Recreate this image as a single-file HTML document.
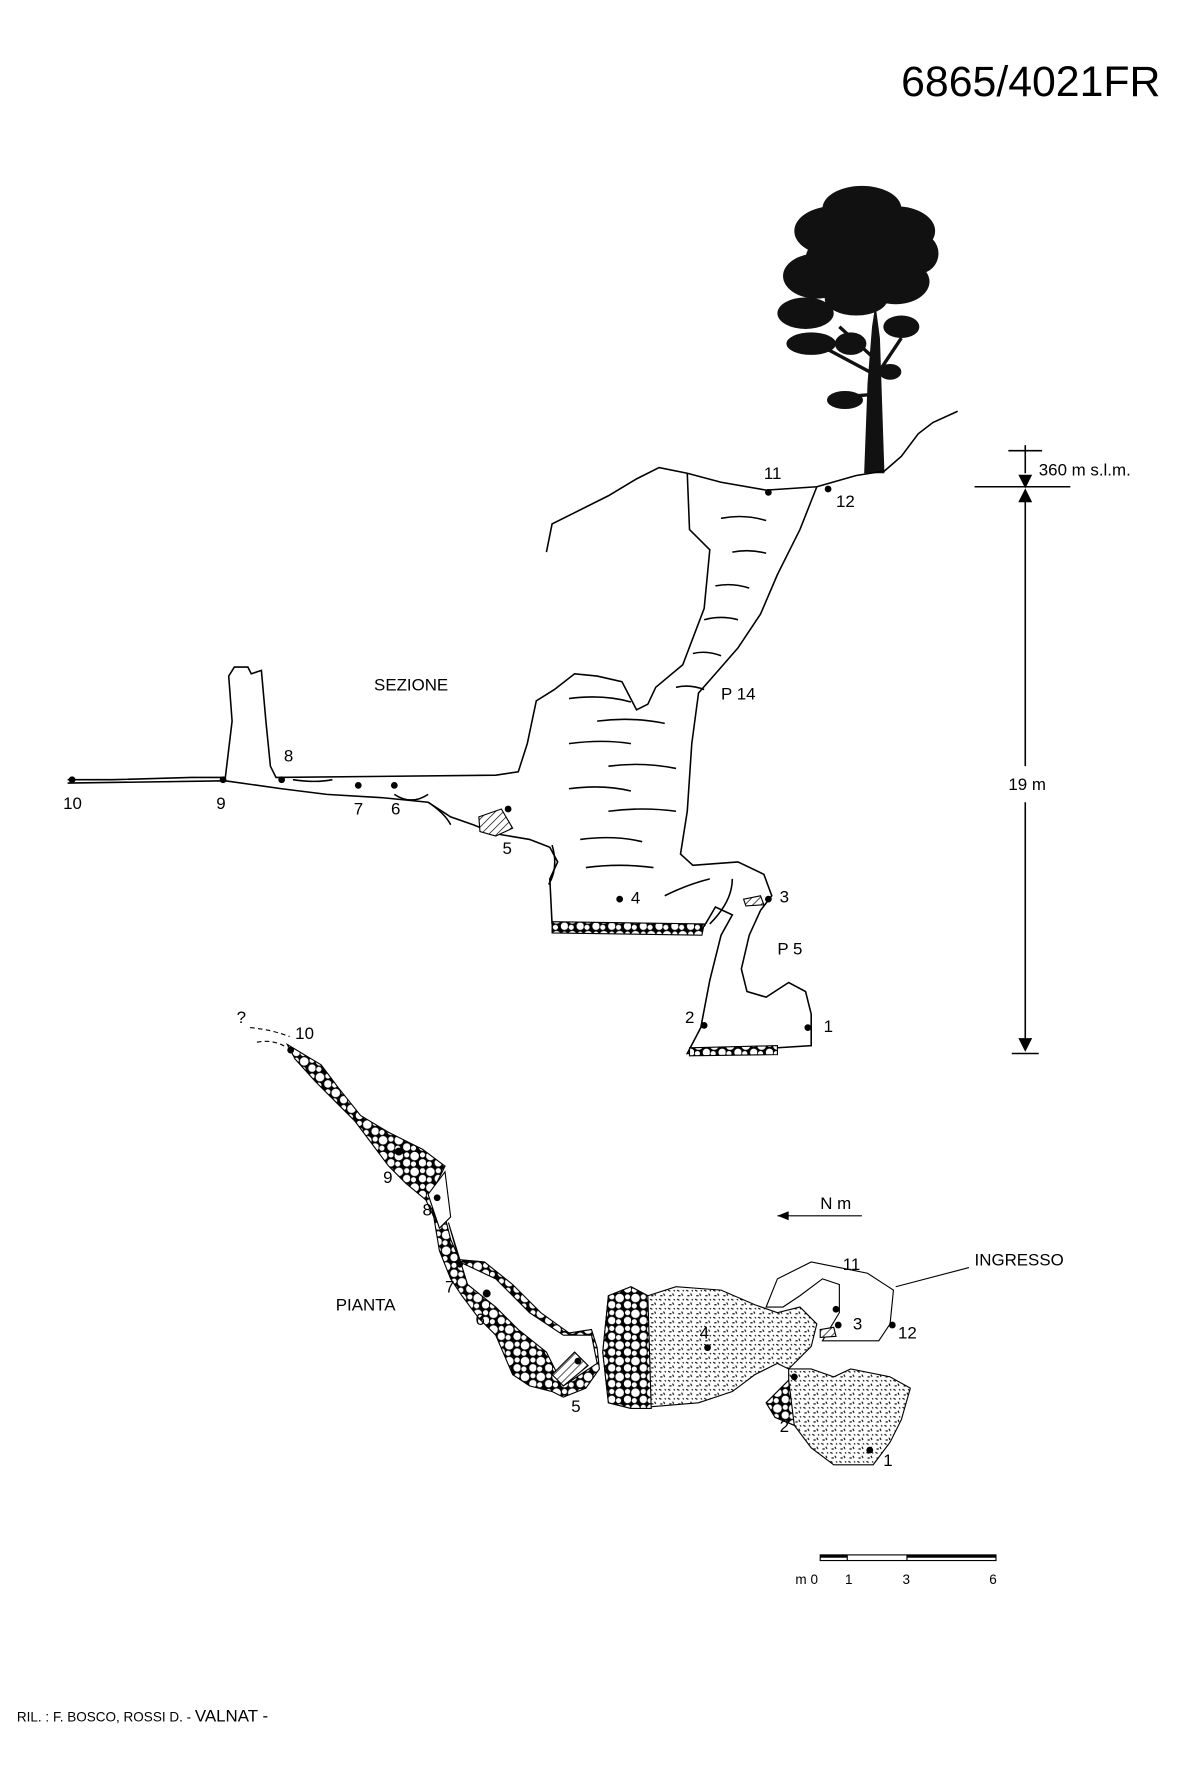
<!DOCTYPE html>
<html><head><meta charset="utf-8"><style>
html,body{margin:0;padding:0;background:#fff}
svg{display:block}
text{font-family:"Liberation Sans","DejaVu Sans",sans-serif;fill:#000}
</style></head><body>
<svg width="1183" height="1778" viewBox="0 0 1050 1578" preserveAspectRatio="none" xmlns="http://www.w3.org/2000/svg">
<defs>
<pattern id="dots" width="8" height="8" patternUnits="userSpaceOnUse">
<rect width="8" height="8" fill="#fff"/>
<path d="M1 1l2 1M5 4l1 2M2 6l2 0M6 1l1 1" stroke="#000" stroke-width="1"/>
</pattern>
<pattern id="boul" width="14" height="14" patternUnits="userSpaceOnUse">
<rect width="14" height="14" fill="#000"/>
<circle cx="4" cy="4" r="3.8" fill="#fff"/><circle cx="11" cy="10" r="3.3" fill="#fff"/><circle cx="3" cy="11" r="2.3" fill="#fff"/><circle cx="11" cy="3" r="2.3" fill="#fff"/>
</pattern>
<pattern id="hatch" width="5" height="5" patternUnits="userSpaceOnUse" patternTransform="rotate(45)">
<rect width="5" height="5" fill="#fff"/><line x1="0" y1="0" x2="0" y2="5" stroke="#000" stroke-width="1.2"/>
</pattern>
</defs>

<text x="1030" y="85" font-size="38" text-anchor="end">6865/4021FR</text>

<!-- tree -->
<g fill="#111">
<path d="M767 420 L770 340 L774 290 L777 270 L781 300 L783 360 L785 420 Z"/>
<ellipse cx="765" cy="185" rx="35" ry="20"/>
<ellipse cx="740" cy="205" rx="35" ry="22"/>
<ellipse cx="795" cy="205" rx="35" ry="22"/>
<ellipse cx="815" cy="225" rx="18" ry="18"/>
<ellipse cx="760" cy="230" rx="45" ry="28"/>
<ellipse cx="725" cy="245" rx="30" ry="20"/>
<ellipse cx="795" cy="250" rx="30" ry="20"/>
<ellipse cx="715" cy="278" rx="25" ry="14"/>
<ellipse cx="760" cy="265" rx="28" ry="15"/>
<ellipse cx="720" cy="305" rx="22" ry="10"/>
<ellipse cx="755" cy="305" rx="14" ry="10"/>
<ellipse cx="800" cy="290" rx="16" ry="10"/>
<ellipse cx="750" cy="355" rx="16" ry="8"/>
<ellipse cx="790" cy="330" rx="10" ry="7"/>
</g>
<path d="M778 320 L745 290 M772 330 L725 305 M780 330 L800 300 M776 350 L752 352" stroke="#111" stroke-width="3" fill="none"/>

<g fill="none" stroke="#000" stroke-width="1.4">
<path d="M485 490 L490 465 L510 455 L540 440 L565 425 L585 415 L610 420 L640 428 L680 435 L725 432 L760 422 L785 418 L800 405 L815 385 L828 375 L850 365"/>
<path d="M610 420 L612 470 L630 488 L625 540 L606 590 L582 610 L575 625 L565 630 L552 605 L530 600 L510 598 L492 612 L476 622 L468 660 L460 685 L440 688 L245 690 L240 680 L236 640 L232 595 L223 598 L220 592 L208 592 L203 600 L206 640 L200 690 L170 690 L100 692 L60 692"/>
<path d="M725 432 L710 470 L690 510 L675 545 L655 575 L635 598 L620 615 L614 660 L610 720 L604 758 L615 768 L655 765 L678 776 L685 795 L675 808 L665 830 L658 860 L663 880 L680 885 L700 872 L715 880 L720 900 L720 928 L610 935 L622 912 L630 870 L640 830 L650 812 L635 805 L625 822 L490 820"/>
<path d="M60 695 L200 693 L250 700 L290 705 L340 708 L380 712 L400 725 L420 732 L440 740 L470 745 L488 752 L495 765 L488 780 L490 820"/>
<path d="M910 395 L910 420 M895 400 L925 400 M865 432 L950 432 M910 445 L910 680 M910 712 L910 932 M898 935 L922 935"/>
<path d="M905 422 L910 432 L915 422 Z M905 445 L910 435 L915 445 Z M905 922 L910 932 L915 922 Z" fill="#000"/>
<path d="M640 460 q20 -4 40 2 M650 490 q15 -3 30 1 M635 520 q15 -3 30 2 M625 550 q15 -4 30 0 M615 580 q12 -3 25 2 M600 610 q12 -3 25 2 M505 620 q30 -4 55 3 M530 640 q30 -4 60 2 M505 660 q30 -4 55 0 M540 680 q30 -4 60 2 M505 700 q30 -4 55 2 M540 720 q30 -4 60 0 M515 745 q30 -4 55 2 M520 770 q30 -4 60 0 M590 795 q20 -10 40 -15 M630 820 q20 -20 20 -40"/>
<path d="M260 692 q20 3 35 0 M350 705 q15 10 30 0 M380 712 q15 10 20 20 M490 750 q6 20 -3 35"/>
</g>
<path d="M490 818 L625 820 L623 830 L490 828 Z" fill="url(#boul)" stroke="#000"/>
<path d="M612 930 L690 928 L690 936 L612 937 Z" fill="url(#boul)" stroke="#000"/>
<path d="M425 725 L445 718 L455 735 L440 742 L426 738 Z" fill="url(#hatch)" stroke="#000"/>
<path d="M660 798 L675 795 L678 803 L662 804 Z" fill="url(#hatch)" stroke="#000"/>

<g fill="#000">
<circle cx="64" cy="692" r="3"/><circle cx="198" cy="692" r="3"/><circle cx="250" cy="692" r="3"/><circle cx="318" cy="697" r="3"/><circle cx="350" cy="697" r="3"/><circle cx="451" cy="718" r="3"/><circle cx="550" cy="798" r="3"/><circle cx="682" cy="798" r="3"/><circle cx="625" cy="910" r="3"/><circle cx="717" cy="912" r="3"/><circle cx="682" cy="437" r="3"/><circle cx="735" cy="434" r="3"/>
</g>
<g font-size="15">
<text x="56" y="718">10</text><text x="192" y="718">9</text><text x="252" y="676">8</text><text x="314" y="723">7</text><text x="347" y="723">6</text><text x="446" y="758">5</text><text x="560" y="802">4</text><text x="692" y="801">3</text><text x="608" y="908">2</text><text x="731" y="916">1</text><text x="678" y="425">11</text><text x="742" y="450">12</text>
<text x="640" y="621">P 14</text><text x="690" y="847">P 5</text><text x="332" y="613">SEZIONE</text>
<text x="922" y="422">360 m s.l.m.</text><text x="895" y="701">19 m</text>
</g>

<path d="M222 912 q20 2 35 8 M228 925 q15 -3 27 5" stroke="#000" fill="none" stroke-dasharray="4 3"/>
<path d="M255 927 L285 945 L300 965 L320 990 L345 1005 L375 1020 L395 1035 L385 1055 L395 1080 L400 1100 L408 1118 L430 1120 L455 1140 L480 1165 L505 1183 L525 1180 L530 1196 L532 1215 L520 1232 L500 1240 L490 1235 L470 1230 L455 1220 L440 1185 L425 1170 L410 1150 L400 1135 L390 1110 L385 1080 L378 1065 L360 1050 L345 1035 L330 1015 L315 995 L300 980 L280 960 L262 940 Z" fill="url(#boul)" stroke="#000"/>
<path d="M398 1085 L408 1120 L440 1135 L470 1165 L500 1185 L525 1185 L530 1210 L500 1230 L485 1200 L460 1180 L440 1160 L415 1140 Z" fill="#fff" stroke="#000"/>
<path d="M380 1060 L395 1040 L400 1080 L390 1090 Z" fill="#fff" stroke="#000"/>
<path d="M490 1220 L510 1200 L522 1212 L500 1230 Z" fill="url(#hatch)" stroke="#000"/>
<path d="M540 1150 L560 1142 L575 1150 L600 1142 L640 1145 L670 1158 L690 1165 L710 1160 L725 1175 L720 1195 L700 1215 L690 1210 L670 1220 L650 1235 L620 1245 L560 1250 L540 1245 L535 1200 Z" fill="url(#dots)" stroke="#000"/>
<path d="M540 1150 L560 1142 L575 1150 L578 1250 L560 1250 L540 1245 L535 1200 Z" fill="url(#boul)" stroke="#000"/>
<path d="M680 1245 L700 1225 L700 1215 L720 1215 L740 1222 L755 1215 L790 1222 L808 1232 L800 1260 L790 1280 L775 1300 L740 1300 L720 1285 L705 1265 L688 1258 Z" fill="url(#dots)" stroke="#000"/>
<path d="M680 1245 L700 1225 L705 1265 L688 1258 Z" fill="url(#boul)" stroke="#000"/>
<path d="M680 1160 L690 1135 L720 1120 L745 1125 L770 1130 L793 1145 L790 1175 L780 1190 L730 1190 L745 1165 L745 1140 L730 1135 L710 1150 L695 1160 Z" fill="#fff" stroke="#000"/>
<path d="M795 1142 L860 1125" stroke="#000" fill="none"/>
<path d="M728 1180 L740 1178 L742 1186 L728 1187 Z" fill="url(#hatch)" stroke="#000"/>
<g fill="#000">
<circle cx="258" cy="932" r="3"/><circle cx="354" cy="1022" r="3.5"/><circle cx="388" cy="1063" r="3"/><circle cx="408" cy="1122" r="3"/><circle cx="432" cy="1148" r="3.5"/><circle cx="513" cy="1208" r="3"/><circle cx="628" cy="1196" r="3"/><circle cx="742" cy="1162" r="3"/><circle cx="744" cy="1176" r="3"/><circle cx="792" cy="1176" r="3"/><circle cx="705" cy="1222" r="3"/><circle cx="772" cy="1287" r="3"/>
</g>
<g font-size="15">
<text x="210" y="908">?</text><text x="262" y="922">10</text><text x="340" y="1050">9</text><text x="375" y="1079">8</text><text x="395" y="1147">7</text><text x="422" y="1176">6</text><text x="507" y="1253">5</text><text x="621" y="1188">4</text><text x="757" y="1180">3</text><text x="797" y="1188">12</text><text x="748" y="1127">11</text><text x="692" y="1271">2</text><text x="784" y="1301">1</text>
<text x="865" y="1123">INGRESSO</text><text x="298" y="1163">PIANTA</text><text x="728" y="1073">N m</text>
</g>
<path d="M690 1079 L765 1079" stroke="#000"/><path d="M690 1079 L700 1075 L700 1083 Z" fill="#000"/>

<g stroke="#000" fill="none">
<rect x="728" y="1380" width="156" height="5"/>
<path d="M752 1380 V1385 M805 1380 V1385"/>
</g>
<rect x="728" y="1380" width="24" height="2.5" fill="#000"/><rect x="805" y="1380" width="79" height="2.5" fill="#000"/>
<g font-size="12"><text x="706" y="1406">m 0</text><text x="750" y="1406">1</text><text x="801" y="1406">3</text><text x="878" y="1406">6</text></g>

<text x="15" y="1528" font-size="12">RIL. : F. BOSCO, ROSSI D. - <tspan font-size="15">VALNAT -</tspan></text>
</svg>
</body></html>
